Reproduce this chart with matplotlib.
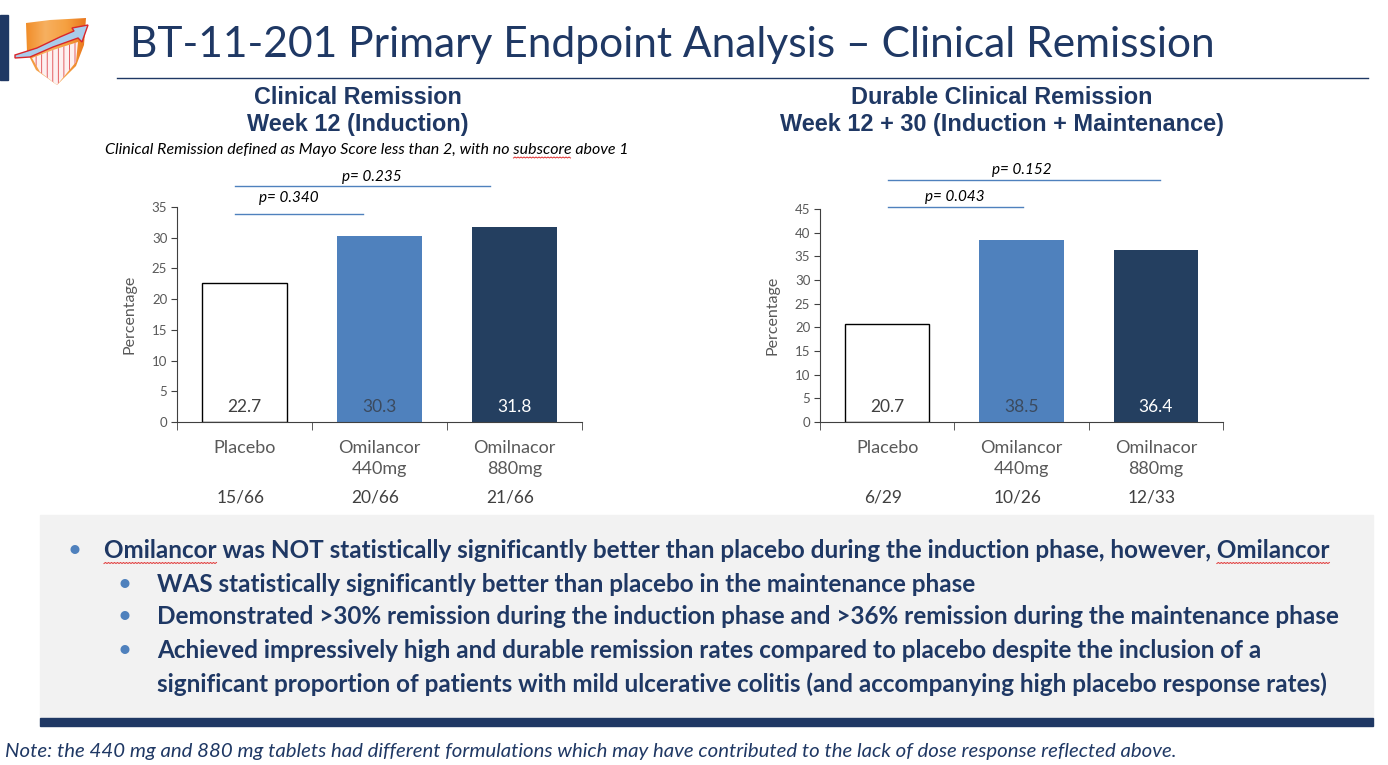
import numpy as np
import matplotlib
matplotlib.use("Agg")
import matplotlib.pyplot as plt
from matplotlib.lines import Line2D
from matplotlib.patches import Polygon, Rectangle
from matplotlib.transforms import blended_transform_factory

# data
groups = ["Placebo", "Omilancor\n440mg", "Omilnacor\n880mg"]
induction = [22.7, 30.3, 31.8]
durable = [20.7, 38.5, 36.4]
induction_n = ["15/66", "20/66", "21/66"]
durable_n = ["6/29", "10/26", "12/33"]
induction_p = ["p= 0.340", "p= 0.235"]
durable_p = ["p= 0.043", "p= 0.152"]

bullets = [
    "Omilancor was NOT statistically significantly better than placebo during the induction phase, however, Omilancor",
    "WAS statistically significantly better than placebo in the maintenance phase",
    "Demonstrated >30% remission during the induction phase and >36% remission during the maintenance phase",
    "Achieved impressively high and durable remission rates compared to placebo despite the inclusion of a",
    "significant proportion of patients with mild ulcerative colitis (and accompanying high placebo response rates)",
]
note = ("Note: the 440 mg and 880 mg tablets had different formulations which may have "
        "contributed to the lack of dose response reflected above.")

W, H = 1388, 765
navy = "#1F3864"
bar_cols = ["white", "#4F81BD", "#243F60"]
val_cols = ["#404040", "#3B4A5E", "white"]
gray = "#595959"

plt.rcParams["font.family"] = ["Lato", "DejaVu Sans"]
plt.rcParams["hatch.linewidth"] = 0.6
fig = plt.figure(figsize=(W / 100, H / 100), dpi=100)
renderer = fig.canvas.get_renderer()


def fx(x):
    return x / W


def fy(y):
    return 1 - y / H


def put(x, y, s, w=None, size=12, **kw):
    # place text in pixel coords, optionally scaled to a target width
    t = fig.text(fx(x), fy(y), s, fontsize=size, **kw)
    if w:
        bb = t.get_window_extent(renderer)
        t.set_fontsize(size * w / bb.width)
    return t


def hline(x0, x1, y, color, lw=1.0):
    fig.add_artist(Line2D([fx(x0), fx(x1)], [fy(y), fy(y)], color=color, lw=lw,
                          transform=fig.transFigure))


def squiggle(t, word, nth=0):
    # spell-check style red wavy underline under a word of a text
    s = t.get_text()
    idx = -1
    for _ in range(nth + 1):
        idx = s.find(word, idx + 1)
    bb = t.get_window_extent(renderer)
    tmp = fig.text(0, 0, s[:idx], fontproperties=t.get_fontproperties())
    x0 = bb.x0 + (tmp.get_window_extent(renderer).width if idx > 0 else 0)
    tmp.set_text(s[:idx + len(word)])
    x1 = bb.x0 + tmp.get_window_extent(renderer).width
    tmp.remove()
    xs = np.arange(x0, x1, 1.5)
    ys = bb.y0 - 1 + 1.0 * (np.arange(len(xs)) % 2)
    fig.add_artist(Line2D(xs / W, ys / H, color="#E03030", lw=0.7,
                          transform=fig.transFigure))


# header: side bar, logo, title, rule
fig.add_artist(Rectangle((0, fy(80)), fx(8), fy(15) - fy(80), color=navy,
                         transform=fig.transFigure))
lax = fig.add_axes([fx(12), fy(90), fx(82), fy(8) - fy(90)])
lax.set_xlim(12, 94)
lax.set_ylim(90, 8)
lax.axis("off")
grad = np.linspace(0, 1, 100).reshape(1, -1)
shield = Polygon([(26, 23), (50, 20), (86, 18), (84, 45), (76, 66), (57, 85), (36, 70), (27, 52)],
                 closed=True, facecolor="none", edgecolor="none")
lax.add_patch(shield)
im = lax.imshow(grad, extent=(24, 88, 86, 16), aspect="auto",
                cmap=matplotlib.colors.LinearSegmentedColormap.from_list(
                    "o", ["#F08A24", "#F7B060", "#F5A040", "#E8731A"]))
im.set_clip_path(shield)
lax.add_patch(Polygon([(32, 58), (53, 50), (78, 42), (76, 62), (57, 85), (40, 72)], closed=True,
                      facecolor="#FDF0F0", edgecolor="#E0474C", hatch="|||", lw=0))
lax.add_patch(Polygon([(15, 55), (37, 48), (60, 37), (74, 31), (72, 28), (88, 25), (82, 42),
                       (78, 38), (53, 47), (30, 57), (15, 58)],
                      closed=True, facecolor="#A9CCEB", edgecolor="#D9262B", lw=1.0))

put(130, 45, "BT-11-201 Primary Endpoint Analysis \u2013 Clinical Remission", w=1087,
    size=30, color=navy, va="center", ha="left")
hline(117, 1368, 78, navy, lw=1.0)

# chart titles
for cx, lines, widths in [(358, ["Clinical Remission", "Week 12 (Induction)"], [209, 222]),
                          (1002, ["Durable Clinical Remission", "Week 12 + 30 (Induction + Maintenance)"],
                           [303, 445])]:
    for (yy, s, ww) in zip([97, 125], lines, widths):
        put(cx, yy, s, w=ww, size=15, color=navy, weight="bold", ha="center", va="center",
            family=["Liberation Sans", "DejaVu Sans"])
sub = put(367, 150, "Clinical Remission defined as Mayo Score less than 2, with no subscore above 1",
          w=525, size=10, style="italic", ha="center", va="center", color="black")
squiggle(sub, "subscore")


def chart(rect, vals, ns, ymax, pvals, plines):
    ax = fig.add_axes(rect)
    x = np.arange(len(groups))
    ax.bar(x, vals, width=0.63, color=bar_cols, edgecolor=["black", "none", "none"], lw=1.0)
    ax.set_xlim(-0.5, 2.5)
    ax.set_ylim(0, ymax)
    ax.set_yticks(np.arange(0, ymax + 1, 5))
    ax.set_xticks(x)
    ax.set_xticklabels(groups, fontsize=13, color=gray, linespacing=1.35)
    ax.set_xticks([-0.5, 0.5, 1.5, 2.5], minor=True)
    ax.tick_params(axis="x", which="major", length=0, pad=13)
    ax.tick_params(axis="x", which="minor", length=6, color="#404040", direction="out")
    ax.tick_params(axis="y", length=4, color="#404040", labelsize=9.5, labelcolor=gray, pad=3)
    for sp in ["top", "right"]:
        ax.spines[sp].set_visible(False)
    for sp in ["left", "bottom"]:
        ax.spines[sp].set_color("#404040")
    ax.set_ylabel("Percentage", fontsize=11.5, color=gray)
    ax.yaxis.set_label_coords(-0.1, 0.5)
    for i, v in enumerate(vals):
        ax.annotate(f"{v:.1f}", xy=(i, 0), xytext=(0, 10.5), textcoords="offset points",
                    ha="center", va="center", fontsize=12.5, color=val_cols[i])
    tr = blended_transform_factory(ax.transData, ax.transAxes)
    for i, s in enumerate(ns):
        ax.text(i - 0.03, -0.353, s, transform=tr, ha="center", va="center",
                fontsize=12.5, color="#404040")
    # p-value brackets
    for s, (tx, ty, x0, x1, ly) in zip(pvals, plines):
        put(tx, ty, s, size=11, style="italic", ha="center", va="center", color="black")
        hline(x0, x1, ly, "#4F81BD", lw=1.0)
    return ax


chart([fx(177), fy(422), fx(582) - fx(177), fy(207) - fy(422)], induction, induction_n, 35,
      induction_p, [(289, 198, 235, 363, 214), (372, 177, 235, 490, 186)])
chart([fx(820), fy(422), fx(1223) - fx(820), fy(209) - fy(422)], durable, durable_n, 45,
      durable_p, [(955, 197, 888, 1023, 207), (1022, 170, 888, 1160, 180)])

# bullet box
fig.add_artist(Rectangle((fx(40), fy(718)), fx(1373) - fx(40), fy(515) - fy(718),
                         color="#F2F2F2", transform=fig.transFigure, zorder=0))
fig.add_artist(Rectangle((fx(40), fy(726)), fx(1373) - fx(40), fy(718) - fy(726),
                         color=navy, transform=fig.transFigure))
t0 = put(104, 551, bullets[0], w=1233, size=16, weight="bold", color=navy, va="center")
bsize = t0.get_fontsize()
squiggle(t0, "Omilancor", 0)
squiggle(t0, "Omilancor", 1)
ys = [551, 584, 617, 651, 684]
xs = [104, 157, 157, 157, 157]
dots = [75, 125, 125, 125, None]
for i, (s, xx, yy, dx) in enumerate(zip(bullets, xs, ys, dots)):
    if i > 0:
        put(xx, yy, s, size=bsize, weight="bold", color=navy, va="center")
    if dx is not None:
        put(dx, yy, "\u2022", size=bsize, color="#4F81BD", va="center", ha="center")

put(5, 751, note, w=1168, size=13, style="italic", color=navy, va="center")

fig.savefig("out.png", dpi=100)
